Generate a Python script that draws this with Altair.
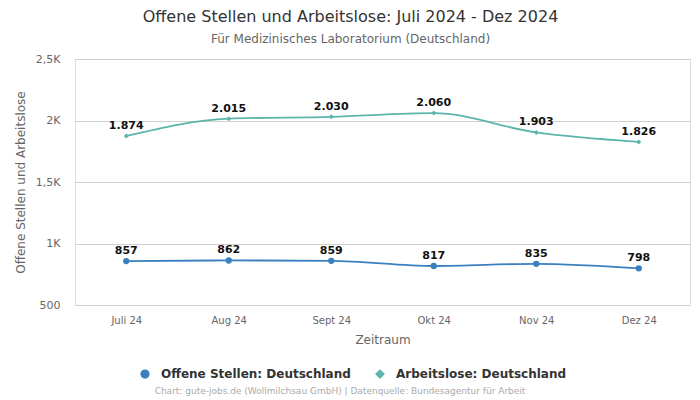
import altair as alt
import pandas as pd

months = ["Juli 24", "Aug 24", "Sept 24", "Okt 24", "Nov 24", "Dez 24"]
offene = [857, 862, 859, 817, 835, 798]
arbeitslose = [1874, 2015, 2030, 2060, 1903, 1826]
series = ["Offene Stellen: Deutschland", "Arbeitslose: Deutschland"]
colors = ["#3a80c0", "#5bb5ad"]
shapes = ["circle", "diamond"]

rows = []
for m, v in zip(months, offene):
    rows.append({"Monat": m, "Wert": v, "Serie": series[0]})
for m, v in zip(months, arbeitslose):
    rows.append({"Monat": m, "Wert": v, "Serie": series[1]})
df = pd.DataFrame(rows)
df["Label"] = df["Wert"].map(lambda v: f"{v:,}".replace(",", "."))

FONT = "DejaVu Sans"

x = alt.X("Monat:N", sort=months, scale=alt.Scale(type="point", padding=0.5),
          axis=alt.Axis(title="Zeitraum", labelAngle=0, labelColor="#666", labelFontSize=10,
                        titleColor="#666", titleFontSize=12, titleFontWeight="normal",
                        labelPadding=10, titlePadding=9, ticks=False, domain=False, grid=False))
y = alt.Y("Wert:Q", scale=alt.Scale(domain=[500, 2500], nice=False, zero=False),
          axis=alt.Axis(title="Offene Stellen und Arbeitslose", values=[500, 1000, 1500, 2000, 2500],
                        labelExpr="datum.value >= 1000 ? replace(format(datum.value/1000, '.1~f'), '.', ',') + 'K' : datum.value",
                        labelColor="#666", labelFontSize=11, titleColor="#666", titleFontSize=12,
                        titleFontWeight="normal", labelPadding=15, titlePadding=8,
                        ticks=False, domain=False, gridColor="#d0d0d0"))
color = alt.Color("Serie:N", sort=series, scale=alt.Scale(domain=series, range=colors),
                  legend=alt.Legend(orient="none", legendX=64, legendY=309, direction="horizontal",
                                    title=None, labelFontSize=12, labelFontWeight="bold",
                                    labelColor="#333", symbolSize=60, columnPadding=22,
                                    labelOffset=10, labelLimit=400, labelFont=FONT))
shape = alt.Shape("Serie:N", sort=series, scale=alt.Scale(domain=series, range=shapes), legend=None)

base = alt.Chart(df)
lines = base.mark_line(interpolate="monotone", strokeWidth=1.8).encode(x=x, y=y, color=color)
points = base.mark_point(filled=True, opacity=1).encode(
    x=x, y=y, color=color,
    shape=shape,
    size=alt.condition(alt.datum.Serie == series[0], alt.value(40), alt.value(25)))
labels = base.mark_text(dy=-10, fontWeight="bold", fontSize=11, color="#111", font=FONT).encode(
    x=x, y=y, text="Label:N")
footer = alt.Chart(pd.DataFrame({"t": ["Chart: gute-jobs.de (Wollmilchsau GmbH) | Datenquelle: Bundesagentur für Arbeit"]})).mark_text(
    fontSize=9, color="#aaa", font=FONT, align="center").encode(
    text="t:N", x=alt.value(265), y=alt.value(332))

chart = alt.layer(lines, points, labels, footer).properties(
    width=615, height=246,
    title=alt.TitleParams("Offene Stellen und Arbeitslose: Juli 2024 - Dez 2024",
                          subtitle="Für Medizinisches Laboratorium (Deutschland)",
                          fontSize=16, fontWeight="normal", color="#333", font=FONT,
                          subtitleFontSize=12, subtitleColor="#666", subtitleFont=FONT,
                          subtitlePadding=9, anchor="middle", dx=-32, offset=8),
    autosize="none",
    padding={"left": 67, "top": 51, "right": 2, "bottom": 92},
).configure_view(stroke=None).configure(font=FONT)

chart.save("out.html", embed_options={"renderer": "svg", "actions": False})
